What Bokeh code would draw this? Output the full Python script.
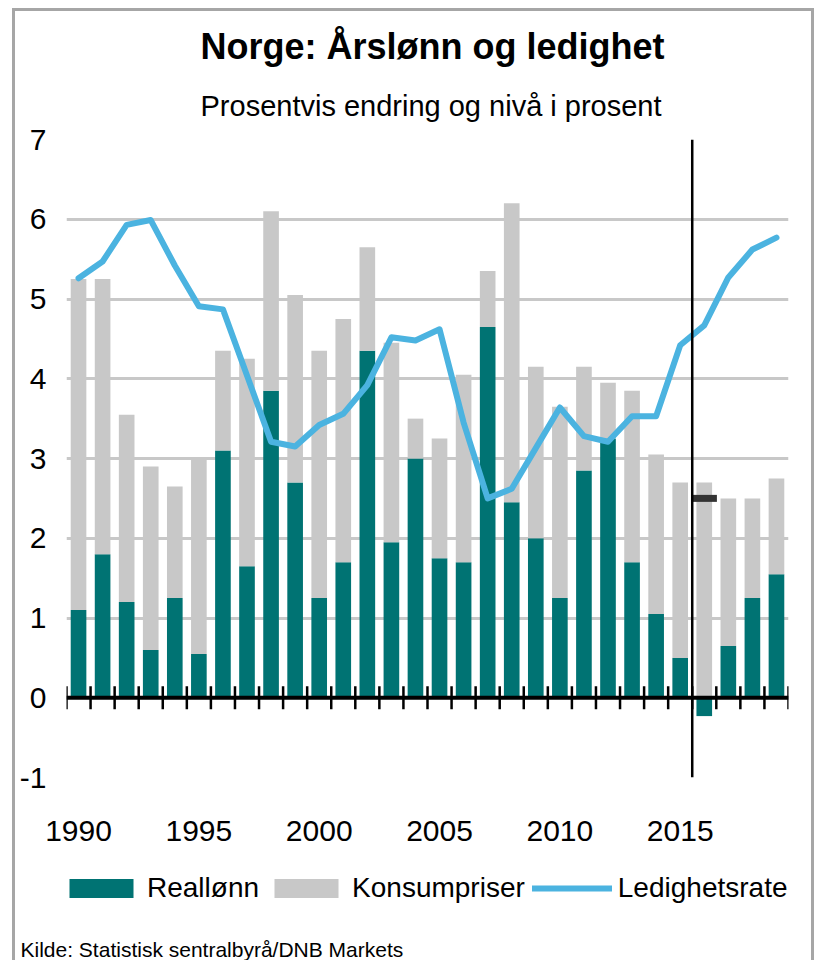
import math
from bokeh.plotting import figure
from bokeh.models import (Span, Title, Legend, LegendItem, FixedTicker, Range1d,
                          ColumnDataSource)
from bokeh.layouts import column
from bokeh.embed import file_html
from bokeh.resources import INLINE

# ---------------- data ----------------
years = list(range(1990, 2020))
reallonn = [1.1, 1.8, 1.2, 0.6, 1.25, 0.55, 3.1, 1.65, 3.85, 2.7,
            1.25, 1.7, 4.35, 1.95, 3.0, 1.75, 1.7, 4.65, 2.45, 2.0,
            1.25, 2.85, 3.25, 1.7, 1.05, 0.5, -0.23, 0.65, 1.25, 1.55]
konsumpriser = [4.15, 3.45, 2.35, 2.3, 1.4, 2.45, 1.25, 2.6, 2.25, 2.35,
                3.1, 3.05, 1.3, 2.5, 0.5, 1.5, 2.35, 0.7, 3.75, 2.15,
                2.4, 1.3, 0.7, 2.15, 2.0, 2.2, 2.7, 1.85, 1.25, 1.2]
ledighet = [5.26, 5.47, 5.93, 5.99, 5.42, 4.91, 4.87, 4.04, 3.21, 3.15,
            3.42, 3.56, 3.92, 4.52, 4.48, 4.62, 3.45, 2.5, 2.62, 3.13,
            3.64, 3.28, 3.21, 3.53, 3.53, 4.42, 4.67, 5.27, 5.62, 5.77]
anslag_year = [2016]
anslag_aarslonn = [2.5]
prognose_start = 2015.5
x_tick_years = [1990, 1995, 2000, 2005, 2010, 2015]
y_ticks = [-1, 0, 1, 2, 3, 4, 5, 6, 7]

title_text = "Norge: Årslønn og ledighet"
subtitle_text = "Prosentvis endring og nivå i prosent"
source_text = "Kilde: Statistisk sentralbyrå/DNB  Markets"
series_names = ["Reallønn", "Konsumpriser", "Ledighetsrate"]

# ---------------- styles ----------------
FONT = "Liberation Sans"
TEAL = "#007373"
GRAY = "#c8c8c8"
BLUE = "#4bb3e0"

teal_bottom = [min(r, 0) for r in reallonn]
teal_top = [max(r, 0) for r in reallonn]
gray_bottom = [max(r, 0) for r in reallonn]
gray_top = [max(r, 0) + k for r, k in zip(reallonn, konsumpriser)]

src = ColumnDataSource(dict(year=years, tb=teal_bottom, tt=teal_top,
                            gb=gray_bottom, gt=gray_top, u=ledighet))

W = 796
p = figure(width=W, height=850, x_range=Range1d(1989.5, 2019.5),
           y_range=Range1d(-1, 7), output_backend="svg", toolbar_location=None,
           min_border_left=51, min_border_right=23, min_border_top=128,
           min_border_bottom=84, background_fill_color="white",
           border_fill_color="white")
p.outline_line_color = None

# grid
p.xgrid.visible = False
p.ygrid.ticker = FixedTicker(ticks=y_ticks)
p.ygrid.grid_line_color = GRAY
p.ygrid.grid_line_width = 3

# y axis
p.yaxis.ticker = FixedTicker(ticks=y_ticks)
p.yaxis.major_label_overrides = {-1: "-1"}
p.yaxis.axis_line_color = None
p.yaxis.major_tick_line_color = None
p.yaxis.minor_tick_line_color = None
p.yaxis.major_tick_out = 0
p.yaxis.major_tick_in = 0
p.yaxis.major_label_standoff = 20
p.yaxis.major_label_text_font = FONT
p.yaxis.major_label_text_font_size = "30px"
p.yaxis.major_label_text_color = "black"

# x axis (labels at bottom)
p.xaxis.ticker = FixedTicker(ticks=x_tick_years)
p.xaxis.axis_line_color = None
p.xaxis.major_tick_line_color = None
p.xaxis.minor_tick_line_color = None
p.xaxis.major_tick_out = 0
p.xaxis.major_tick_in = 0
p.xaxis.major_label_standoff = 43
p.xaxis.major_label_text_font = FONT
p.xaxis.major_label_text_font_size = "30px"
p.xaxis.major_label_text_color = "black"

# bars
p.vbar(x="year", bottom="tb", top="tt", width=0.65, source=src,
       fill_color=TEAL, line_color=None)
p.vbar(x="year", bottom="gb", top="gt", width=0.65, source=src,
       fill_color=GRAY, line_color=None)
# line
p.line(x="year", y="u", source=src, line_color=BLUE, line_width=6,
       line_join="round", line_cap="round")

# axis line at zero with cross ticks between categories
p.add_layout(Span(location=0, dimension="width", line_color="black", line_width=4))
boundaries = [y - 0.5 for y in years] + [years[-1] + 0.5]
p.scatter(x=boundaries, y=[0] * len(boundaries), marker="dash", size=23,
          angle=math.pi / 2, line_color="black", line_width=2.5)

# forecast marker and divider
p.rect(x=anslag_year, y=anslag_aarslonn, width=1.05, height=7,
       height_units="screen", fill_color="#333333", line_color=None)
p.add_layout(Span(location=prognose_start, dimension="height",
                  line_color="black", line_width=2.5))

# titles
p.add_layout(Title(text=subtitle_text, align="left", offset=134, text_font=FONT,
                   text_font_size="29px", text_font_style="normal",
                   text_color="black", standoff=36), "above")
p.add_layout(Title(text=title_text, align="left", offset=134, text_font=FONT,
                   text_font_size="36px", text_font_style="bold",
                   text_color="black", standoff=6), "above")

# ---------------- footer: legend + source ----------------
FH = 99
f = figure(width=W, height=FH, x_range=Range1d(0, 1), y_range=Range1d(0, 1),
           output_backend="svg", toolbar_location=None, x_axis_type=None,
           y_axis_type=None, min_border=0, background_fill_color="white",
           border_fill_color="white")
f.outline_line_color = None
# legend swatches: styled like the chart's series, with no visible extent
lg_real = f.vbar(x=[0.5], bottom=[0], top=[0], width=0, fill_color=TEAL,
                 line_color=None)
lg_kpi = f.vbar(x=[0.5], bottom=[0], top=[0], width=0, fill_color=GRAY,
                line_color=None)
lg_u = f.line(x=[-6, -5], y=[0.5, 0.5], line_color=BLUE, line_width=6,
              line_cap="round")

legend = Legend(items=[LegendItem(label=series_names[0], renderers=[lg_real]),
                       LegendItem(label=series_names[1], renderers=[lg_kpi]),
                       LegendItem(label=series_names[2], renderers=[lg_u])],
                location=(-5, 31), orientation="horizontal",
                glyph_width=80, glyph_height=24, label_standoff=6,
                label_text_font=FONT, label_text_font_size="28px",
                label_text_color="black", padding=0, margin=0, spacing=7,
                border_line_color=None, background_fill_alpha=0)
f.add_layout(legend, "center")
f.add_layout(Title(text=source_text, align="left", offset=-46, text_font=FONT,
                   text_font_size="21px", text_font_style="normal",
                   text_color="black", standoff=0), "below")

layout = column(p, f, spacing=0,
                styles={"border-left": "3px solid #a6a6a6",
                        "border-top": "3px solid #a6a6a6",
                        "border-right": "3px solid #a6a6a6",
                        "margin-left": "12px", "margin-top": "8px"})

open("out.html", "w").write(file_html(layout, INLINE))
